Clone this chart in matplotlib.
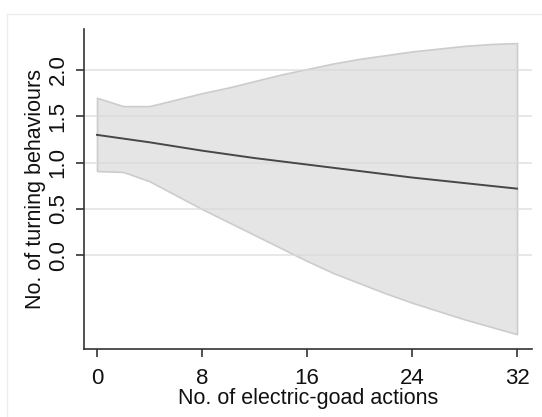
import matplotlib.pyplot as plt
from matplotlib.patches import Rectangle

# band (every 2 actions)
x_band = [0, 2, 4, 6, 8, 10, 12, 14, 16, 18, 20, 22, 24, 26, 28, 30, 32]
upper = [1.70, 1.61, 1.61, 1.68, 1.75, 1.81, 1.88, 1.95, 2.01,
         2.07, 2.12, 2.16, 2.20, 2.23, 2.26, 2.28, 2.29]
lower = [0.91, 0.90, 0.80, 0.65, 0.50, 0.36, 0.22, 0.08, -0.06,
         -0.19, -0.30, -0.41, -0.51, -0.60, -0.69, -0.77, -0.85]

# fitted line
x_fit = [0, 4, 8, 12, 16, 20, 24, 28, 32]
fit = [1.30, 1.22, 1.13, 1.05, 0.98, 0.91, 0.84, 0.78, 0.72]

x_ticks = [0, 8, 16, 24, 32]
y_ticks = [0.0, 0.5, 1.0, 1.5, 2.0]

plt.rcParams['font.family'] = ['Liberation Sans', 'DejaVu Sans']

fig = plt.figure(figsize=(5.42, 4.17), dpi=100, facecolor='white')
# faint outer frame of the graph region
fig.patches.append(Rectangle((7 / 542, -0.1), 1.2, 1 - 14 / 417 + 0.1,
                             transform=fig.transFigure, fill=False,
                             edgecolor='#ececec', linewidth=1))

ax = fig.add_axes([0.155, 0.163, 0.8265, 0.767])
ax.set_facecolor('white')

ax.fill_between(x_band, lower, upper, facecolor='#e5e5e5',
                edgecolor='#cccccc', linewidth=1.2, zorder=1)
for yv in y_ticks:
    ax.axhline(yv, color='#d9d9d9', linewidth=1.1, alpha=0.8, zorder=2)
ax.plot(x_fit, fit, color='#474747', linewidth=1.4, zorder=3)

ax.set_xlim(-0.99, 33.14)
ax.set_ylim(-1.01, 2.44)
ax.set_xticks(x_ticks)
ax.set_yticks(y_ticks)
ax.set_yticklabels([f'{v:.1f}' for v in y_ticks], rotation=90, va='center')

for side in ['top', 'right']:
    ax.spines[side].set_visible(False)
for side in ['left', 'bottom']:
    ax.spines[side].set_color('#333333')
    ax.spines[side].set_linewidth(1.2)

ax.tick_params(axis='both', direction='out', length=6, width=1.2,
               color='#333333', labelsize=16, labelcolor='#111111')
ax.tick_params(axis='x', pad=8)
ax.tick_params(axis='y', pad=5)

ax.set_xlabel('No. of electric-goad actions', fontsize=15.5, labelpad=-1,
              color='#111111')
ax.set_ylabel('No. of turning behaviours', fontsize=15.5, labelpad=1,
              color='#111111')

plt.savefig('out.png', dpi=100, facecolor='white')
